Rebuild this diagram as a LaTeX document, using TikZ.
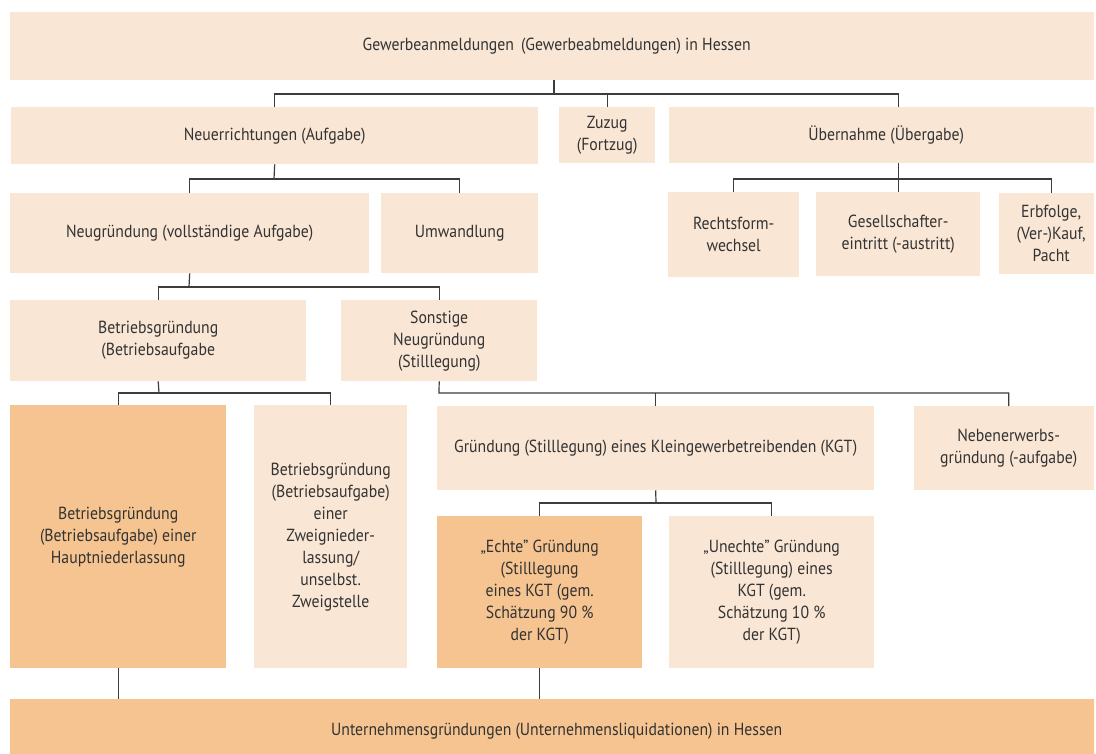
\documentclass[tikz,border=0pt]{standalone}
\usepackage{fontspec}
\setmainfont{PT Sans}[FakeStretch=0.9]
\definecolor{lightorange}{HTML}{F9E6D4}
\definecolor{darkorange}{HTML}{F5C490}
\definecolor{linegray}{HTML}{3C3C3C}
\definecolor{textgray}{HTML}{333333}
\usetikzlibrary{positioning,calc}

\begin{document}
\begin{tikzpicture}[x=1pt,y=-1pt,
    every node/.style={anchor=north west,inner sep=2pt,align=center,
      text=textgray,font=\fontsize{17.5}{22}\selectfont},
    lbox/.style={fill=lightorange},
    dbox/.style={fill=darkorange},
    conn/.style={draw=linegray,line width=1.2pt}
    ]
    \fill[white] (0,0) rectangle (1096,753);
    \useasboundingbox (0,0) rectangle (1096,753);
    \clip (0,0) rectangle (1094,753);

    \node (top) [lbox,minimum width=1093,minimum height=68] at (10,12) {Gewerbeanmeldungen\, (Gewerbeabmeldungen) in Hessen};
    \node (neu) [lbox,minimum width=527,minimum height=57] at (11,107) {Neuerrichtungen (Aufgabe)};
    \node (zuzug) [lbox,minimum width=96,minimum height=56] at (559,107) {Zuzug\\(Fortzug)};
    \node (ueber) [lbox,minimum width=434,minimum height=56] at (669,107) {Übernahme (Übergabe)};
    \node (rechts) [lbox,minimum width=131,minimum height=85] at (668,192) {Rechtsform-\\wechsel};
    \node (gesell) [lbox,minimum width=164,minimum height=84] at (816,192) {Gesellschafter-\\eintritt (-austritt)};
    \node (erb) [lbox,minimum width=104,minimum height=81] at (999,193) {Erbfolge,\\(Ver-)Kauf,\\Pacht};
    \node (neugr) [lbox,minimum width=359,minimum height=80] at (10,193) {Neugründung (vollständige Aufgabe)};
    \node (umw) [lbox,minimum width=157,minimum height=80] at (381,193) {Umwandlung};
    \node (betr) [lbox,minimum width=296,minimum height=81] at (10,300) {Betriebsgründung\\(Betriebsaufgabe};
    \node (sonst) [lbox,minimum width=196,minimum height=81] at (341,300) {Sonstige\\Neugründung\\(Stilllegung)};
    \node (haupt) [dbox,minimum width=216,minimum height=263] at (10,405) {Betriebsgründung\\(Betriebsaufgabe) einer\\Hauptniederlassung};
    \node (zweig) [lbox,minimum width=153,minimum height=263] at (254,405) {Betriebsgründung\\(Betriebsaufgabe)\\einer\\Zweignieder-\\lassung/\\unselbst.\\Zweigstelle};
    \node (kgt) [lbox,minimum width=437,minimum height=84] at (437,406) {Gründung (Stilllegung) eines Kleingewerbetreibenden (KGT)};
    \node (neben) [lbox,minimum width=189,minimum height=84] at (914,406) {Nebenerwerbs-\\gründung (-aufgabe)};
    \node (echt) [dbox,minimum width=205,minimum height=152] at (437,516) {„Echte" Gründung\\(Stilllegung\\eines KGT (gem.\\Schätzung 90 \%\\der KGT)};
    \node (unecht) [lbox,minimum width=205,minimum height=152] at (669,516) {„Unechte" Gründung\\(Stilllegung) eines\\KGT (gem.\\Schätzung 10 \%\\der KGT)};
    \node (unt) [dbox,minimum width=1093,minimum height=63] at (10,699) {Unternehmensgründungen (Unternehmensliquidationen) in Hessen};

    % the junctions
    \coordinate (j1) at (554,94);
    \coordinate (j2) at (898,179);
    \coordinate (j3) at (274,179);
    \coordinate (j4) at (189,287);
    \coordinate (j5) at (159,393);
    \coordinate (j6) at (439,393);
    \coordinate (j7) at (656,503);

    % the edges
    \draw[conn] (top.south -| j1) -- (j1);
    \draw[conn] (neu.north) |- (j1) -| (gesell |- ueber.north);
    \draw[conn] (zuzug.north) -- (zuzug.north |- j1);
    \draw[conn] (ueber.south -| gesell) -- (gesell.north);
    \draw[conn] (rechts.north) |- (j2) -| (erb.north);
    \draw[conn] (neu.south) -- (j3);
    \draw[conn] (neugr.north) |- (j3) -| (umw.north);
    \draw[conn] (neugr.south) -- (j4);
    \draw[conn] (betr.north) |- (j4) -| (sonst.north);
    \draw[conn] (betr.south) -- (j5);
    \draw[conn] (haupt.north) |- (j5) -| (zweig.north);
    \draw[conn] (sonst.south) -- (j6) -| (neben.north);
    \draw[conn] (kgt.north) -- (kgt.north |- j6);
    \draw[conn] (kgt.south) -- (j7);
    \draw[conn] (echt.north) |- (j7) -| (unecht.north);
    \draw[conn] (haupt.south) -- (haupt.south |- unt.north);
    \draw[conn] (echt.south) -- (echt.south |- unt.north);
\end{tikzpicture}
\end{document}
